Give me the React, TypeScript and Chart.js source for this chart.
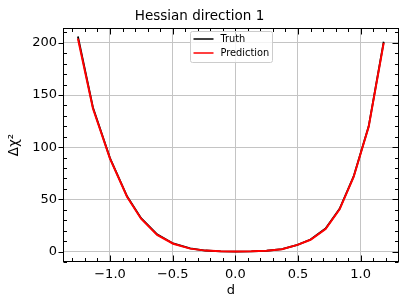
import { useEffect, useRef } from "react";
import { Chart, registerables } from "chart.js";

Chart.register(...registerables);

const chartTitle = "Hessian direction 1";
const xAxisTitle = "d";
const yAxisTitle = "Δχ²";
const seriesLabels = ["Truth", "Prediction"];
const seriesColors = ["#000000", "#ff0000"];

const dValues = [-1.256, -1.136, -1.0, -0.864, -0.752, -0.624, -0.496, -0.36, -0.238, -0.116, 0.006, 0.128, 0.25, 0.372, 0.496, 0.6, 0.72, 0.832, 0.944, 1.064, 1.184];
const truthValues = [206, 138, 89.5, 53, 32, 16.5, 7.8, 3.0, 1.0, 0.2, 0, 0.2, 0.8, 2.3, 6.5, 11.5, 22, 41, 72, 120, 201];
const predictionValues = [204, 137, 89, 52.5, 31.5, 16, 7.5, 2.8, 0.9, 0.2, 0, 0.2, 0.8, 2.2, 6.4, 11.3, 21.6, 40.5, 71.5, 119.5, 200];

const xTickValues = [-1, -0.5, 0, 0.5, 1];
const yTickValues = [0, 50, 100, 150, 200];
const xMinorStep = 0.1;
const yMinorStep = 10;

const FONT = "'DejaVu Sans', sans-serif";

const fmtX = (v: number) => v.toFixed(1).replace("-", "\u2212");

const framePlugin = {
  id: "frame",
  afterDraw(chart: any) {
    const { ctx, chartArea: a, scales } = chart;
    const xs = scales.x;
    const ys = scales.y;
    const L = Math.round(a.left) + 0.5;
    const R = Math.round(a.right) - 0.5;
    const T = Math.round(a.top) + 0.5;
    const B = Math.round(a.bottom) - 0.5;
    ctx.save();
    ctx.strokeStyle = "#000";
    ctx.lineWidth = 1;
    const majorLen = 6;
    const minorLen = 3.5;
    ctx.beginPath();
    const xMaj = new Set(xTickValues.map((v) => v.toFixed(2)));
    const yMaj = new Set(yTickValues.map((v) => v.toFixed(2)));
    const xmin = xs.min, xmax = xs.max, ymin = ys.min, ymax = ys.max;
    for (let k = Math.ceil(xmin / xMinorStep); k * xMinorStep <= xmax; k++) {
      const v = k * xMinorStep;
      const isMaj = xMaj.has(v.toFixed(2));
      const len = isMaj ? majorLen : minorLen;
      const px = Math.round(xs.getPixelForValue(v)) + 0.5;
      ctx.moveTo(px, B);
      ctx.lineTo(px, B - len);
      ctx.moveTo(px, T);
      ctx.lineTo(px, T + len);
    }
    for (let k = Math.ceil(ymin / yMinorStep); k * yMinorStep <= ymax; k++) {
      const v = k * yMinorStep;
      const isMaj = yMaj.has(v.toFixed(2));
      const py = Math.round(ys.getPixelForValue(v)) + 0.5;
      if (isMaj) {
        ctx.moveTo(L - 5, py);
        ctx.lineTo(L, py);
        ctx.moveTo(R, py);
        ctx.lineTo(R - majorLen, py);
      } else {
        ctx.moveTo(L, py);
        ctx.lineTo(L + minorLen, py);
        ctx.moveTo(R, py);
        ctx.lineTo(R - minorLen, py);
      }
    }
    ctx.stroke();
    ctx.strokeRect(L, T, R - L, B - T);

    // legend
    const bw = 82, bh = 31;
    const bx = Math.round((a.left + a.right) / 2 - bw / 2) + 0.5;
    const by = Math.round(a.top) + 3.5;
    ctx.beginPath();
    const r = 2;
    ctx.moveTo(bx + r, by);
    ctx.lineTo(bx + bw - r, by);
    ctx.arcTo(bx + bw, by, bx + bw, by + r, r);
    ctx.lineTo(bx + bw, by + bh - r);
    ctx.arcTo(bx + bw, by + bh, bx + bw - r, by + bh, r);
    ctx.lineTo(bx + r, by + bh);
    ctx.arcTo(bx, by + bh, bx, by + bh - r, r);
    ctx.lineTo(bx, by + r);
    ctx.arcTo(bx, by, bx + r, by, r);
    ctx.closePath();
    ctx.fillStyle = "rgba(255,255,255,0.8)";
    ctx.fill();
    ctx.strokeStyle = "#cccccc";
    ctx.stroke();
    ctx.font = `9.8px ${FONT}`;
    ctx.textBaseline = "middle";
    ctx.textAlign = "left";
    chart.data.datasets.forEach((ds: any, i: number) => {
      const cy = by + 7.5 + i * 14;
      ctx.strokeStyle = ds.borderColor;
      ctx.lineWidth = 1.5;
      ctx.beginPath();
      ctx.moveTo(bx + 3, cy);
      ctx.lineTo(bx + 23, cy);
      ctx.stroke();
      ctx.fillStyle = "#000";
      ctx.fillText(ds.label, bx + 30, cy);
    });
    ctx.restore();
  },
};

export default function App() {
  const ref = useRef<HTMLCanvasElement | null>(null);
  useEffect(() => {
    if (!ref.current) return;
    const series = [truthValues, predictionValues];
    const chart = new Chart(ref.current, {
      type: "line",
      data: {
        datasets: series.map((vals, i) => ({
          label: seriesLabels[i],
          data: dValues.map((d, j) => ({ x: d, y: vals[j] })),
          borderColor: seriesColors[i],
          backgroundColor: seriesColors[i],
          borderWidth: i === 0 ? 1.8 : 2,
          pointRadius: 0,
          tension: 0,
          fill: false,
          order: i === 0 ? 1 : 0,
        })),
      },
      options: {
        animation: false,
        responsive: false,
        devicePixelRatio: 1,
        layout: { padding: { left: 0, right: 10, top: 0, bottom: 0 } },
        plugins: {
          legend: { display: false },
          tooltip: { enabled: false },
          title: {
            display: true,
            text: chartTitle,
            color: "#000",
            font: { family: FONT, size: 13.5, weight: "normal" },
            padding: { top: 8, bottom: 4 },
          },
        },
        scales: {
          x: {
            type: "linear",
            min: -1.375,
            max: 1.306,
            afterBuildTicks: (s: any) => {
              s.ticks = xTickValues.map((v) => ({ value: v }));
            },
            afterFit: (s: any) => {
              s.height = 45;
            },
            grid: { color: "#c4c4c4", lineWidth: 1, drawTicks: false },
            border: { display: false },
            ticks: {
              padding: 5,
              color: "#000",
              maxRotation: 0,
              font: { family: FONT, size: 13 },
              callback: (v: any) => fmtX(Number(v)),
            },
            title: {
              display: true,
              text: xAxisTitle,
              color: "#000",
              font: { family: FONT, size: 13 },
              padding: { top: 0, bottom: 9 },
            },
          },
          y: {
            type: "linear",
            min: -10,
            max: 214,
            afterBuildTicks: (s: any) => {
              s.ticks = yTickValues.map((v) => ({ value: v }));
            },
            afterFit: (s: any) => {
              s.width = 63;
            },
            grid: { color: "#c4c4c4", lineWidth: 1, drawTicks: false },
            border: { display: false },
            ticks: {
              padding: 6,
              color: "#000",
              font: { family: FONT, size: 13 },
              callback: (v: any) => String(v),
            },
            title: {
              display: true,
              text: yAxisTitle,
              color: "#000",
              font: { family: FONT, size: 13.5 },
              padding: { top: 6, bottom: 0 },
            },
          },
        },
      },
      plugins: [framePlugin],
    });
    return () => chart.destroy();
  }, []);
  return (
    <div style={{ position: "absolute", left: 0, top: 0, width: 409, height: 307 }}>
      <canvas ref={ref} width={409} height={307} style={{ display: "block" }} />
    </div>
  );
}
